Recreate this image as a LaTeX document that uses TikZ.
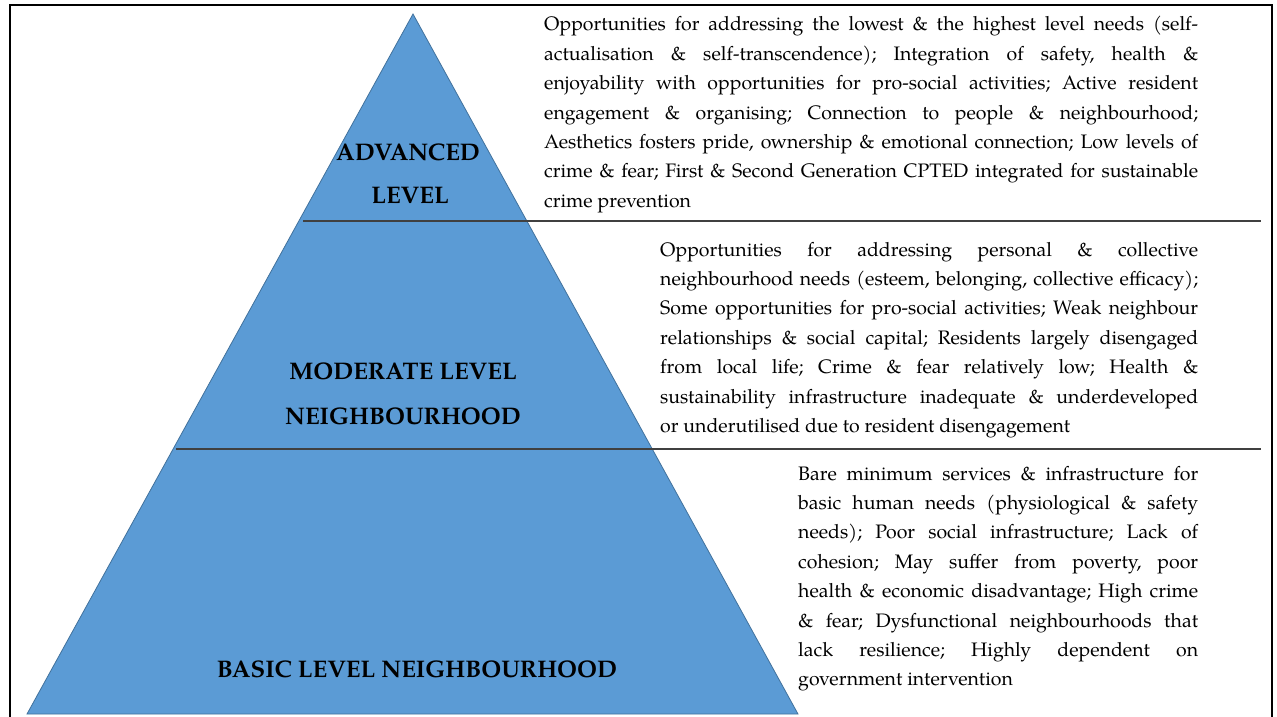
\documentclass[tikz,border=0pt]{standalone}
\usepackage{fontspec}
\setmainfont{TeX Gyre Pagella}
\definecolor{pyrfill}{HTML}{5B9BD5}
\definecolor{pyredge}{HTML}{41719C}
\newcommand\bodyfont{\fontsize{19.5}{29.4}\selectfont\frenchspacing}
\newcommand\lvlfont{\bfseries\fontsize{24}{40}\selectfont}
\newcommand\nl{\linebreak}
\begin{document}
\begin{tikzpicture}[x=1pt,y=-1pt,
  body/.style={anchor=base west, inner sep=0pt, text width=#1, align=justify, font=\bodyfont},
  lvl/.style={font=\lvlfont, inner sep=0pt, anchor=base},
  divider/.style={draw=black!75, line width=1.3pt},
  frame/.style={draw=black, line width=2.6pt},
  pyramid/.style={fill=pyrfill, draw=pyredge, line width=0.8pt}]
\clip (0,0) rectangle (1277,717);
\draw[frame] (10,5) rectangle (1272,760);
\draw[pyramid] (27,714) -- (413,14) -- (798,714) -- cycle;
\coordinate (d1a) at (303,221);
\coordinate (d1b) at (1261,221);
\coordinate (d2a) at (176,449);
\coordinate (d2b) at (1261,449);
\draw[divider] (d1a) -- (d1b);
\draw[divider] (d2a) -- (d2b);
% level labels
\node[lvl] (adv1) at (408,160) {ADVANCED};
\node[lvl] (adv2) at (410,203) {LEVEL};
\node[lvl] (mod1) at (403,379) {MODERATE LEVEL};
\node[lvl] (mod2) at (403,424) {NEIGHBOURHOOD};
\node[lvl] (bas1) at (417,677) {BASIC LEVEL NEIGHBOURHOOD};
% descriptions
\node[body=654pt] (advtxt) at (544,31) {%
Opportunities for addressing the lowest \& the highest level needs (self-\nl
actualisation \& self-transcendence); Integration of safety, health \&\nl
enjoyability with opportunities for pro-social activities; Active resident\nl
engagement \& organising; Connection to people \& neighbourhood;\nl
Aesthetics fosters pride, ownership \& emotional connection; Low levels of\nl
crime \& fear; First \& Second Generation CPTED integrated for sustainable\nl
crime prevention};
\node[body=538pt] (modtxt) at (660,256) {%
Opportunities for addressing personal \& collective\nl
neighbourhood needs (esteem, belonging, collective efficacy);\nl
Some opportunities for pro-social activities; Weak neighbour\nl
relationships \& social capital; Residents largely disengaged\nl
from local life; Crime \& fear relatively low; Health \&\nl
sustainability infrastructure inadequate \& underdeveloped\nl
or underutilised due to resident disengagement};
\node[body=400pt] (bastxt) at (798,480) {%
Bare minimum services \& infrastructure for\nl
basic human needs (physiological \& safety\nl
needs); Poor social infrastructure; Lack of\nl
cohesion; May suffer from poverty, poor\nl
health \& economic disadvantage; High crime\nl
\& fear; Dysfunctional neighbourhoods that\nl
lack resilience; Highly dependent on\nl
government intervention};
\end{tikzpicture}
\end{document}
